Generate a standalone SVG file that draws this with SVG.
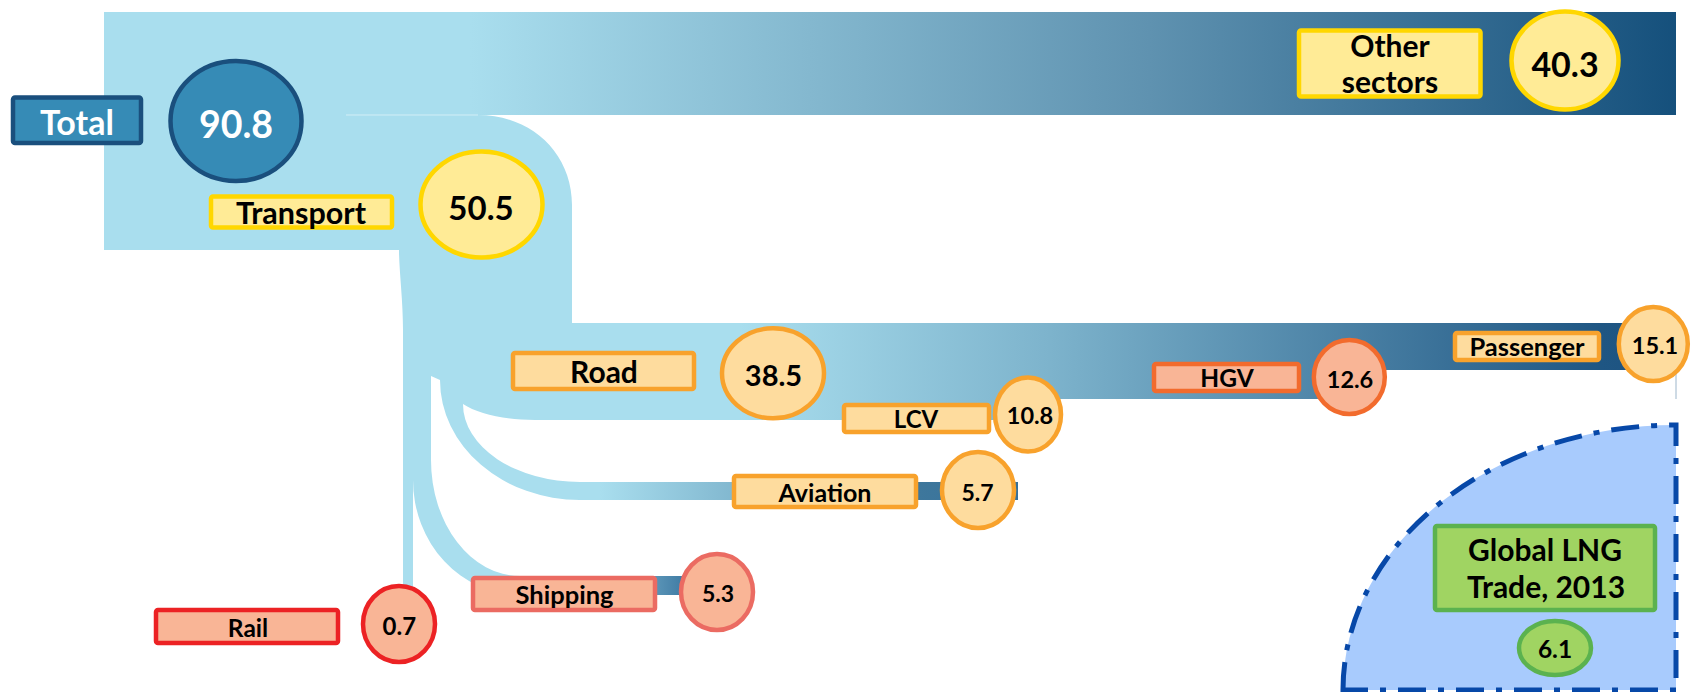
<svg xmlns="http://www.w3.org/2000/svg" width="1691" height="692" viewBox="0 0 1691 692">
<style>
text{font-family:Lato,"Liberation Sans",sans-serif;font-weight:700;text-anchor:middle;fill:#000}
.w{fill:#fff}
.blue{fill:#368BB6;stroke:#1A4F7D;stroke-width:4.5}
.yel{fill:#FFEB96;stroke:#FFD700;stroke-width:4.5}
.org{fill:#FEDC9E;stroke:#F8A22C;stroke-width:4.5}
.hgv{fill:#F9B596;stroke:#F26B2D;stroke-width:4.5}
.shp{fill:#F9B596;stroke:#EB6B62;stroke-width:4.5}
.rail{fill:#F9B596;stroke:#EC2224;stroke-width:4.5}
.lng{fill:#A0D462;stroke:#5BB24F;stroke-width:4.5}
.lt{fill:#A9DEEE}
</style>
<defs>
<linearGradient id="gTop" gradientUnits="userSpaceOnUse" x1="104" y1="0" x2="1676" y2="0">
<stop offset="0" stop-color="#A9DEEE"/><stop offset="0.233" stop-color="#A9DEEE"/><stop offset="0.665" stop-color="#5F92B0"/><stop offset="1" stop-color="#15507C"/>
</linearGradient>
<linearGradient id="gRoad" gradientUnits="userSpaceOnUse" x1="572" y1="0" x2="1676" y2="0">
<stop offset="0" stop-color="#A9DEEE"/><stop offset="0.152" stop-color="#A9DEEE"/><stop offset="0.433" stop-color="#7DB3CC"/><stop offset="0.931" stop-color="#1F5683"/><stop offset="1" stop-color="#1C5280"/>
</linearGradient>
<linearGradient id="gAvi" gradientUnits="userSpaceOnUse" x1="580" y1="0" x2="1018" y2="0">
<stop offset="0" stop-color="#A9DEEE"/><stop offset="0.046" stop-color="#A9DEEE"/><stop offset="0.347" stop-color="#82B8D0"/><stop offset="0.772" stop-color="#3E779C"/><stop offset="1" stop-color="#35709A"/>
</linearGradient>
<linearGradient id="gShip" gradientUnits="userSpaceOnUse" x1="520" y1="0" x2="690" y2="0">
<stop offset="0" stop-color="#A9DEEE"/><stop offset="0.3" stop-color="#A9DEEE"/><stop offset="1" stop-color="#3A76A0"/>
</linearGradient>
</defs>

<g id="lng-region">
<path d="M1343,690 A333,265 0 0 1 1676,425 V690 Z" fill="#A8CBFD" stroke="#0748A8" stroke-width="5" stroke-dasharray="28 12 6 12"/>
</g>

<g id="connectors">
<rect x="104" y="12" width="1572" height="103" fill="url(#gTop)"/>
<path class="lt" d="M104,112 H478 V115 C531,115 572,153 572,205 V323 H640 V420 H535 C505,420 478,414 463,404 A117,78 0 0 0 580,482 H600 V500 H580 A140,120 0 0 1 440,380 L431,376 V460 A89,116 0 0 0 520,576 H540 V595 H520 A107,115 0 0 1 413,480 L413,590 H403 V330 C403,300 399,270 399,250 H104 Z"/>
<line x1="346" y1="115" x2="478" y2="115" stroke="#D2EEF6" stroke-width="1"/>
<path d="M572,323 H1676 V370 H1349 V399 H1028 V420 H572 Z" fill="url(#gRoad)"/>
<line x1="1676" y1="368" x2="1676" y2="399" stroke="#9DB6CB" stroke-width="1"/>
<rect x="578" y="482" width="440" height="18" fill="url(#gAvi)"/>
<rect x="518" y="576" width="172" height="19" fill="url(#gShip)"/>
</g>

<g id="total">
<rect class="blue" x="13" y="97.5" width="128" height="45.5" rx="2"/>
<text class="w" x="77" y="135" font-size="34">Total</text>
<ellipse class="blue" cx="236" cy="121" rx="65.5" ry="60" stroke-width="5"/>
<text class="w" x="236" y="138" font-size="37.5">90.8</text>
</g>

<g id="other-sectors">
<rect class="yel" x="1299" y="30.5" width="181.5" height="66" rx="2"/>
<text x="1390" y="57" font-size="30">Other</text>
<text x="1390" y="93" font-size="30">sectors</text>
<ellipse class="yel" cx="1565" cy="60.5" rx="53.5" ry="49" stroke-width="5"/>
<text x="1565" y="77" font-size="34">40.3</text>
</g>

<g id="transport">
<rect class="yel" x="211" y="196.5" width="181" height="31" rx="2"/>
<text x="301" y="224" font-size="30.5">Transport</text>
<ellipse class="yel" cx="481.5" cy="204.5" rx="61" ry="53" stroke-width="5"/>
<text x="481" y="220" font-size="33">50.5</text>
</g>

<g id="road">
<rect class="org" x="513" y="353" width="181" height="36" rx="2"/>
<text x="604" y="383" font-size="30">Road</text>
<ellipse class="org" cx="773" cy="373.3" rx="51" ry="45" stroke-width="5"/>
<text x="773.5" y="386" font-size="29">38.5</text>
</g>

<g id="lcv">
<rect class="org" x="844" y="405" width="145" height="27" rx="2"/>
<text x="916" y="428" font-size="24">LCV</text>
<ellipse class="org" cx="1028" cy="414.5" rx="33" ry="37"/>
<text x="1030" y="424" font-size="23.5">10.8</text>
</g>

<g id="hgv">
<rect class="hgv" x="1154" y="364" width="145" height="27" rx="2"/>
<text x="1227" y="387" font-size="24.5">HGV</text>
<ellipse class="hgv" cx="1349.3" cy="377" rx="35.5" ry="37"/>
<text x="1350" y="388" font-size="23.5">12.6</text>
</g>

<g id="passenger">
<rect class="org" x="1455" y="333" width="144" height="27" rx="2"/>
<text x="1527" y="356" font-size="25.5">Passenger</text>
<ellipse class="org" cx="1653.3" cy="344" rx="34.5" ry="37"/>
<text x="1655" y="354" font-size="23.5">15.1</text>
</g>

<g id="aviation">
<rect class="org" x="734" y="476" width="182" height="31" rx="2"/>
<text x="825" y="501.5" font-size="25">Aviation</text>
<ellipse class="org" cx="978" cy="490" rx="36" ry="38"/>
<text x="977.5" y="500.5" font-size="23">5.7</text>
</g>

<g id="shipping">
<rect class="shp" x="473" y="578" width="182" height="32" rx="2"/>
<text x="564.5" y="604" font-size="25.5">Shipping</text>
<ellipse class="shp" cx="717" cy="592" rx="36" ry="38"/>
<text x="718" y="601.5" font-size="23">5.3</text>
</g>

<g id="rail">
<rect class="rail" x="156" y="610" width="182" height="33" rx="2"/>
<text x="248" y="636.5" font-size="24.5">Rail</text>
<ellipse class="rail" cx="399" cy="624" rx="36" ry="38"/>
<text x="399.3" y="635" font-size="24">0.7</text>
</g>

<g id="lng-trade">
<rect class="lng" x="1435" y="526" width="220" height="84" rx="2"/>
<text x="1545" y="561" font-size="30">Global LNG</text>
<text x="1546" y="598" font-size="30">Trade, 2013</text>
<ellipse class="lng" cx="1555" cy="648" rx="36" ry="27"/>
<text x="1555" y="658" font-size="24.5">6.1</text>
</g>
</svg>
